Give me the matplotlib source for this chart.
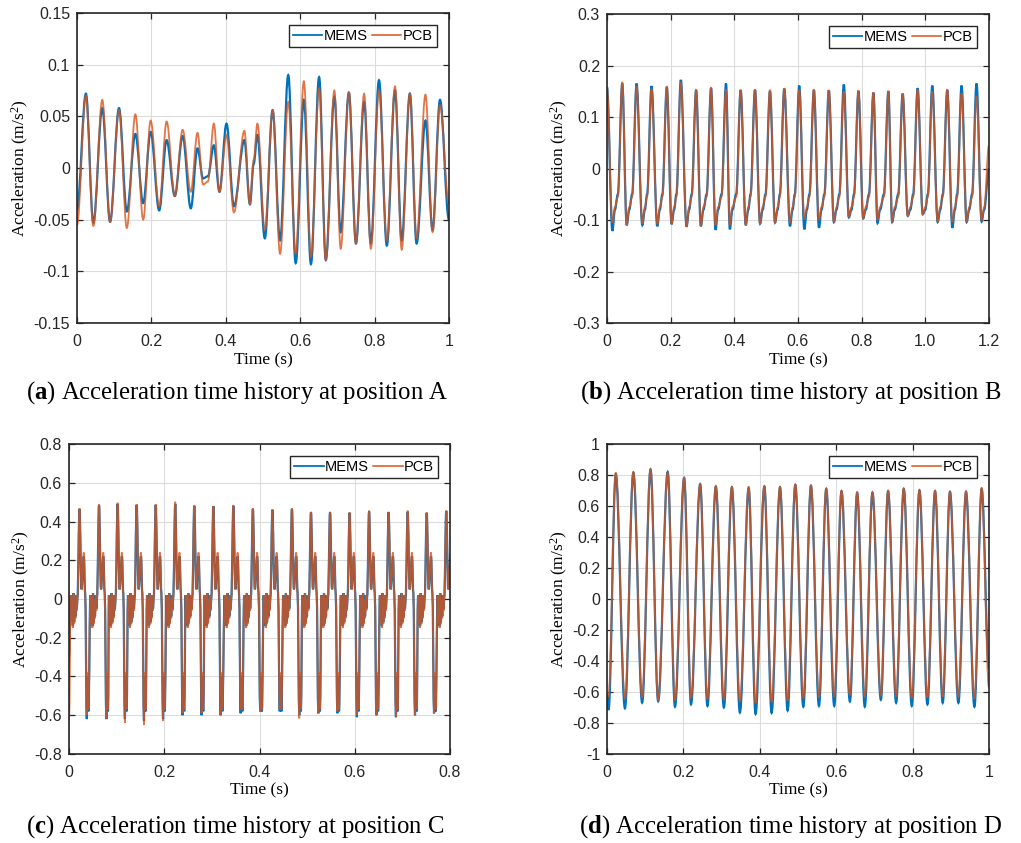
import numpy as np
import matplotlib.pyplot as plt
from matplotlib.path import Path
from matplotlib.patches import PathPatch
from matplotlib.lines import Line2D

plt.rcParams['font.family'] = 'Liberation Sans'
plt.rcParams['mathtext.fontset'] = 'custom'
plt.rcParams['mathtext.rm'] = 'Liberation Serif'
plt.rcParams['mathtext.it'] = 'Liberation Serif:italic'
plt.rcParams['mathtext.bf'] = 'Liberation Serif:bold'

blue = '#0072BD'
orange = '#D95319'

# ---------------- (a) position A : extrema
t_a = [0.000, 0.024, 0.044, 0.068, 0.089, 0.113, 0.134, 0.157, 0.178, 0.198,
       0.221, 0.241, 0.263, 0.284, 0.306, 0.324, 0.339, 0.352, 0.368, 0.383,
       0.402, 0.422, 0.450, 0.465, 0.475, 0.485, 0.505, 0.526, 0.546, 0.568,
       0.588, 0.610, 0.629, 0.651, 0.669, 0.692, 0.709, 0.731, 0.750, 0.772,
       0.790, 0.812, 0.833, 0.855, 0.873, 0.895, 0.913, 0.937, 0.956, 0.976,
       1.000]
mems_a = [-0.040, 0.072, -0.053, 0.058, -0.052, 0.058, -0.042, 0.033, -0.034, 0.035,
          -0.041, 0.027, -0.027, 0.031, -0.039, 0.019, -0.010, -0.008, 0.022, -0.023,
          0.043, -0.037, 0.027, -0.035, 0.004, 0.032, -0.068, 0.056, -0.070, 0.090,
          -0.092, 0.066, -0.093, 0.088, -0.089, 0.069, -0.062, 0.073, -0.073, 0.064,
          -0.073, 0.085, -0.075, 0.075, -0.070, 0.072, -0.073, 0.046, -0.060, 0.066,
          -0.050]
pcb_a = [-0.055, 0.070, -0.056, 0.066, -0.052, 0.056, -0.058, 0.052, -0.050, 0.046,
         -0.037, 0.045, -0.027, 0.037, -0.023, 0.034, -0.016, -0.013, 0.043, -0.023,
         0.032, -0.043, 0.036, -0.035, 0.008, 0.043, -0.060, 0.056, -0.083, 0.064,
         -0.083, 0.084, -0.086, 0.077, -0.089, 0.075, -0.078, 0.073, -0.073, 0.072,
         -0.078, 0.075, -0.070, 0.079, -0.079, 0.072, -0.068, 0.071, -0.062, 0.061,
         -0.035]

# ---------------- (b) position B : peaks, troughs and the knee on the rising side
peak_t_b = [0.000, 0.048, 0.093, 0.140, 0.188, 0.232, 0.280, 0.327, 0.374, 0.420,
            0.465, 0.512, 0.557, 0.604, 0.650, 0.697, 0.744, 0.790, 0.837, 0.884,
            0.929, 0.976, 1.022, 1.069, 1.114, 1.161]
trough_t_b = [0.017, 0.062, 0.111, 0.158, 0.203, 0.250, 0.295, 0.341, 0.386, 0.436,
              0.481, 0.528, 0.575, 0.620, 0.666, 0.713, 0.760, 0.805, 0.850, 0.896,
              0.945, 0.992, 1.039, 1.085, 1.130, 1.177]
pcb_peak_b = [0.155, 0.168, 0.160, 0.155, 0.160, 0.167, 0.154, 0.158, 0.154, 0.153,
              0.153, 0.153, 0.156, 0.153, 0.154, 0.152, 0.150, 0.152, 0.148, 0.151,
              0.146, 0.154, 0.150, 0.154, 0.146, 0.140]
mems_peak_b = [0.158, 0.165, 0.165, 0.160, 0.158, 0.172, 0.152, 0.156, 0.165, 0.152,
               0.153, 0.150, 0.155, 0.161, 0.152, 0.152, 0.163, 0.150, 0.147, 0.150,
               0.145, 0.156, 0.161, 0.152, 0.161, 0.165]
pcb_trough_b = [-0.105, -0.110, -0.107, -0.108, -0.108, -0.113, -0.112, -0.110, -0.110, -0.110,
                -0.107, -0.105, -0.105, -0.099, -0.100, -0.104, -0.095, -0.097, -0.100, -0.104,
                -0.092, -0.089, -0.104, -0.104, -0.104, -0.100]
mems_trough_b = [-0.121, -0.110, -0.110, -0.112, -0.108, -0.113, -0.112, -0.119, -0.118, -0.110,
                 -0.107, -0.105, -0.112, -0.118, -0.115, -0.104, -0.095, -0.097, -0.106, -0.104,
                 -0.092, -0.089, -0.104, -0.115, -0.104, -0.103]
knee_b = {'dt': 0.008, 'pcb': -0.075, 'mems': -0.080}
shoulder_b = {'dt': 0.014, 'pcb': -0.055, 'mems': -0.050}
end_b = {'t': 1.2, 'pcb': 0.045, 'mems': 0.000}

# ---------------- (c) position C : peaks, deep troughs, and one cycle's shape
peak_t_c = [0.022, 0.063, 0.102, 0.142, 0.182, 0.223, 0.263, 0.303, 0.345, 0.386,
            0.427, 0.468, 0.508, 0.548, 0.589, 0.630, 0.671, 0.711, 0.751, 0.792]
pcb_peak_c = [0.468, 0.490, 0.497, 0.490, 0.490, 0.502, 0.485, 0.480, 0.485, 0.468,
              0.463, 0.468, 0.450, 0.450, 0.447, 0.456, 0.450, 0.456, 0.446, 0.456]
mems_peak_c = [0.465, 0.485, 0.490, 0.485, 0.485, 0.490, 0.480, 0.478, 0.480, 0.465,
               0.460, 0.465, 0.448, 0.448, 0.445, 0.452, 0.448, 0.450, 0.445, 0.455]
pcb_trough_c = [-0.600, -0.616, -0.640, -0.650, -0.630, -0.590, -0.590, -0.600, -0.573, -0.580,
                -0.573, -0.616, -0.590, -0.580, -0.600, -0.600, -0.610, -0.600, -0.590, -0.580]
mems_trough_c = [-0.620, -0.620, -0.620, -0.630, -0.620, -0.600, -0.600, -0.600, -0.590, -0.580,
                 -0.580, -0.600, -0.590, -0.590, -0.610, -0.600, -0.610, -0.600, -0.590, -0.580]
# time offsets from each peak, with the values read from one cycle
pre_dt_c = [-0.0182, -0.0168, -0.0154, -0.0140, -0.0126, -0.0112, -0.0098,
            -0.0084, -0.0070, -0.0056, -0.0042]
pcb_pre_c = [0.02, -0.12, 0.01, -0.15, 0.03, -0.13, 0.00, -0.10, 0.02, -0.06, 0.01]
mems_pre_c = [0.02, -0.11, 0.01, -0.14, 0.03, -0.12, 0.00, -0.09, 0.02, -0.05, 0.01]
post_dt_c = [0.0042, 0.0091, 0.0119, 0.0154, 0.0168, 0.0189]
pcb_post_c = [0.05, 0.24, 0.03, None, -0.38, -0.57]
mems_post_c = [0.05, 0.22, 0.03, None, -0.40, -0.58]
start_c = {'pcb': -0.63, 'mems': -0.30}

# ---------------- (d) position D : troughs and peaks
trough_t_d = [0.004, 0.047, 0.092, 0.134, 0.178, 0.220, 0.263, 0.306, 0.348, 0.389,
              0.431, 0.473, 0.514, 0.555, 0.595, 0.636, 0.675, 0.717, 0.757, 0.798,
              0.839, 0.879, 0.920, 0.962]
peak_t_d = [0.023, 0.069, 0.114, 0.159, 0.202, 0.244, 0.285, 0.327, 0.371, 0.412,
            0.453, 0.493, 0.534, 0.574, 0.614, 0.655, 0.695, 0.736, 0.777, 0.818,
            0.859, 0.898, 0.940, 0.981]
pcb_peak_d = [0.815, 0.820, 0.840, 0.815, 0.785, 0.745, 0.730, 0.725, 0.725, 0.730,
              0.725, 0.740, 0.735, 0.714, 0.700, 0.690, 0.690, 0.700, 0.714, 0.703,
              0.700, 0.695, 0.695, 0.718]
mems_peak_d = [0.805, 0.815, 0.835, 0.820, 0.780, 0.740, 0.725, 0.720, 0.715, 0.725,
               0.720, 0.735, 0.730, 0.710, 0.695, 0.685, 0.685, 0.695, 0.710, 0.700,
               0.695, 0.690, 0.690, 0.710]
pcb_trough_d = [-0.630, -0.645, -0.635, -0.655, -0.655, -0.640, -0.645, -0.650, -0.660, -0.670,
                -0.665, -0.655, -0.640, -0.635, -0.630, -0.620, -0.635, -0.625, -0.630, -0.640,
                -0.635, -0.630, -0.630, -0.645]
mems_trough_d = [-0.716, -0.705, -0.669, -0.660, -0.695, -0.680, -0.690, -0.700, -0.733, -0.742,
                 -0.735, -0.720, -0.695, -0.690, -0.690, -0.662, -0.695, -0.650, -0.670, -0.690,
                 -0.680, -0.670, -0.670, -0.695]
start_d = {'pcb': -0.60, 'mems': -0.62}
end_d = {'pcb': -0.57, 'mems': -0.45}

captions = ['a', 'b', 'c', 'd']
positions = ['A', 'B', 'C', 'D']


def build_b(key, peaks, troughs):
    t, y = [], []
    n = len(peak_t_b)
    for i in range(n):
        t += [peak_t_b[i], trough_t_b[i], trough_t_b[i] + knee_b['dt']]
        y += [peaks[i], troughs[i], knee_b[key]]
        if i + 1 < n:
            t.append(peak_t_b[i + 1] - shoulder_b['dt'])
            y.append(shoulder_b[key])
    t.append(end_b['t'])
    y.append(end_b[key])
    return t, y


def build_c(key, peaks, troughs, pre, post):
    t, y = [0.0], [start_c[key]]
    for i in range(len(peak_t_c)):
        tp = peak_t_c[i]
        t += [tp + d for d in pre_dt_c]
        y += pre
        t.append(tp)
        y.append(peaks[i])
        for d, v in zip(post_dt_c, post):
            t.append(tp + d)
            y.append(troughs[i] if v is None else v)
    return t, y


def build_d(key, peaks, troughs):
    t, y = [0.0], [start_d[key]]
    for i in range(len(peak_t_d)):
        t += [trough_t_d[i], peak_t_d[i]]
        y += [troughs[i], peaks[i]]
    t.append(1.0)
    y.append(end_d[key])
    return t, y


def smooth_path(t, y, k=0.36):
    # cubic Bezier through the read points, flat tangent at each one
    verts = [(t[0], y[0])]
    codes = [Path.MOVETO]
    for i in range(1, len(t)):
        dt = t[i] - t[i - 1]
        verts += [(t[i - 1] + k * dt, y[i - 1]), (t[i] - k * dt, y[i]), (t[i], y[i])]
        codes += [Path.CURVE4] * 3
    return Path(verts, codes)


series = [
    ((t_a, mems_a), (t_a, pcb_a)),
    (build_b('mems', mems_peak_b, mems_trough_b), build_b('pcb', pcb_peak_b, pcb_trough_b)),
    (build_c('mems', mems_peak_c, mems_trough_c, mems_pre_c, mems_post_c),
     build_c('pcb', pcb_peak_c, pcb_trough_c, pcb_pre_c, pcb_post_c)),
    (build_d('mems', mems_peak_d, mems_trough_d), build_d('pcb', pcb_peak_d, pcb_trough_d)),
]

xlims = [(0, 1), (0, 1.2), (0, 0.8), (0, 1)]
ylims = [(-0.15, 0.15), (-0.3, 0.3), (-0.8, 0.8), (-1, 1)]
xticks = [[0, 0.2, 0.4, 0.6, 0.8, 1], [0, 0.2, 0.4, 0.6, 0.8, 1.0, 1.2],
          [0, 0.2, 0.4, 0.6, 0.8], [0, 0.2, 0.4, 0.6, 0.8, 1]]
xticklabels = [['0', '0.2', '0.4', '0.6', '0.8', '1'],
               ['0', '0.2', '0.4', '0.6', '0.8', '1.0', '1.2'],
               ['0', '0.2', '0.4', '0.6', '0.8'],
               ['0', '0.2', '0.4', '0.6', '0.8', '1']]
yticks = [np.linspace(-0.15, 0.15, 7), np.linspace(-0.3, 0.3, 7),
          np.linspace(-0.8, 0.8, 9), np.linspace(-1, 1, 11)]
yticklabels = [['-0.15', '-0.1', '-0.05', '0', '0.05', '0.1', '0.15'],
               ['-0.3', '-0.2', '-0.1', '0', '0.1', '0.2', '0.3'],
               ['-0.8', '-0.6', '-0.4', '-0.2', '0', '0.2', '0.4', '0.6', '0.8'],
               ['-1', '-0.8', '-0.6', '-0.4', '-0.2', '0', '0.2', '0.4', '0.6', '0.8', '1']]

rects = [[0.0754, 0.6168, 0.3643, 0.3677],
         [0.5945, 0.6168, 0.3741, 0.3666],
         [0.0676, 0.1056, 0.3732, 0.3677],
         [0.5945, 0.1056, 0.3741, 0.3677]]
cap_xy = [(0.232, 0.534), (0.774, 0.534), (0.230, 0.020), (0.774, 0.020)]

fig = plt.figure(figsize=(10.21, 8.43), dpi=100)

for k in range(4):
    ax = fig.add_axes(rects[k])
    (tm, ym), (tp, yp) = series[k]
    ax.add_patch(PathPatch(smooth_path(tm, ym), facecolor='none', edgecolor=blue, lw=1.6))
    ax.add_patch(PathPatch(smooth_path(tp, yp), facecolor='none', edgecolor=orange,
                           lw=1.3, alpha=0.8))
    ax.set_xlim(*xlims[k])
    ax.set_ylim(*ylims[k])
    ax.set_xticks(xticks[k])
    ax.set_xticklabels(xticklabels[k])
    ax.set_yticks(yticks[k])
    ax.set_yticklabels(yticklabels[k])
    ax.grid(True, color='#dcdcdc', lw=0.8)
    ax.set_axisbelow(True)
    ax.tick_params(direction='in', top=True, right=True, length=4, width=0.9,
                   labelsize=11.5, colors='#262626', labelcolor='#262626')
    ax.tick_params(axis='x', pad=8)
    ax.tick_params(axis='y', pad=5)
    for sp in ax.spines.values():
        sp.set_linewidth(1.2)
        sp.set_color('#262626')
    ax.set_xlabel('Time (s)', family='Liberation Serif', fontsize=12.5, labelpad=2)
    ax.set_ylabel('Acceleration (m/s$^2$)', family='Liberation Serif', fontsize=12.5, labelpad=2)
    handles = [Line2D([], [], color=blue, lw=1.3), Line2D([], [], color=orange, lw=1.1)]
    leg = ax.legend(handles, ['MEMS', 'PCB'], loc='upper right', ncol=2, fontsize=10.5,
                    frameon=True, fancybox=False, edgecolor='#262626', framealpha=1,
                    handlelength=2.0, handletextpad=0.1, columnspacing=0.3,
                    borderpad=0.3, borderaxespad=0.8)
    leg.get_frame().set_linewidth(1.0)
    fig.text(cap_xy[k][0], cap_xy[k][1],
             r'($\mathbf{%s}$) Acceleration time history at position %s' % (captions[k], positions[k]),
             ha='center', va='center', family='Liberation Serif', fontsize=17.8)

fig.savefig('out.png', dpi=100)
